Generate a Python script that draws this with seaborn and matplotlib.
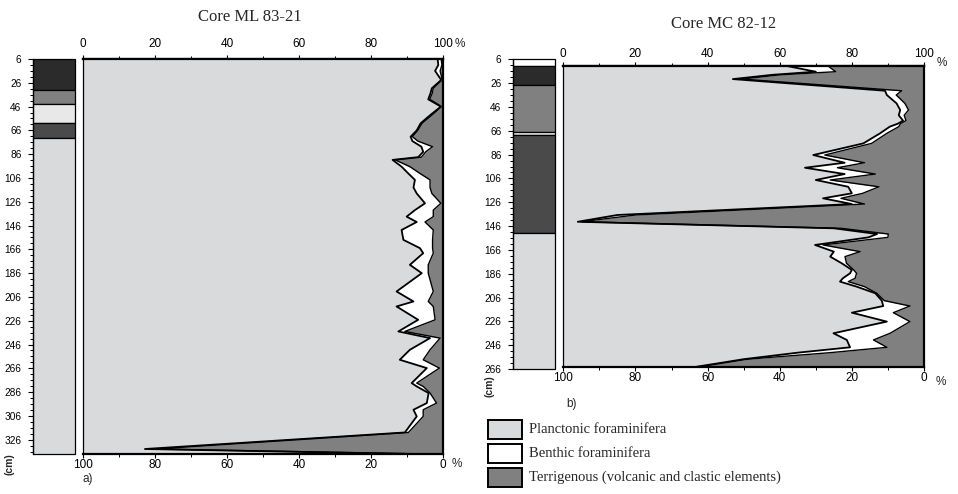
import numpy as np
import matplotlib
matplotlib.use('Agg')
import matplotlib.pyplot as plt
import seaborn as sns
from matplotlib.patches import Rectangle
from matplotlib.ticker import FixedLocator, MultipleLocator

# ---- Core ML 83-21 (panel a) ----
ml_depth = [6, 11, 16, 23.6, 30.6, 35, 39.9, 46, 53, 60, 66, 71.3, 75, 79.7, 84,
            88.5, 90.8, 96.5, 102, 107.6, 114, 119, 127.3, 133, 138.5, 143, 149.7,
            158, 165, 169.2, 179, 186, 201.4, 209.8, 214, 225.2, 235, 240.6, 250.4,
            258.8, 265.8, 278.4, 281.2, 286.8, 295.2, 300.8, 306.4, 319.9, 333.8, 338]
ml_plank = [98.5, 98.7, 97.8, 99.5, 96.9, 96.5, 95.9, 99.4, 96.5, 93.8, 92.7, 91, 91.5,
            94, 94.5, 93.1, 86, 88.5, 90.3, 92.2, 91.8, 92.7, 95, 92.2, 89.9, 92.7,
            88.5, 89, 93.6, 94.5, 90.8, 94.1, 87.1, 91.8, 87.1, 93.1, 87.6, 96.4, 90.8,
            88, 95.5, 91.3, 92.7, 96, 95.5, 91.8, 92.7, 89.4, 17.2, 91.8]
# planktonic + benthic (cumulative)
ml_plank_benth = [99.5, 99.7, 99.2, 99.8, 97.3, 97, 96.3, 99.6, 97, 94.2, 93, 91.5, 93,
                  97.1, 95.2, 94, 86.7, 90.8, 93.5, 96.4, 96.4, 96.9, 99.4, 97.3, 97.3,
                  95, 97.3, 97.1, 97.1, 97.3, 95.9, 95.9, 97.3, 95.9, 97.3, 97.8, 89.4,
                  99.2, 96.4, 94.5, 99, 92.7, 94.5, 96.4, 98.2, 94.5, 94.5, 90.4, 20, 95.9]
ml_litho_top = [6, 32, 44, 60, 72]
ml_litho_bottom = [32, 44, 60, 72, 338]
ml_litho = ['black', 'grey', 'pale', 'dark', 'light']
ml_depth_ticks = list(range(6, 327, 20))

# ---- Core MC 82-12 (panel b) ----
mc_depth = [11.6, 16.4, 19, 22.6, 32.4, 36, 43, 48.6, 53, 57.5, 60, 62.6, 68.2, 76.6,
            86.4, 92.9, 97.1, 102.4, 107.4, 113.1, 118.6, 122.8, 127.6, 136.8, 142.5,
            148, 152.8, 155.6, 162, 167.6, 171.8, 177.4, 183, 185.8, 190, 192.8, 197,
            202.6, 208.8, 213.3, 218.9, 226.4, 236.2, 241.8, 248, 252.5, 258, 264.3]
mc_plank = [62, 70, 58, 47, 89.2, 89.7, 92.4, 93.4, 93, 94.2, 92.8, 90.5, 87.8, 83.2,
            69.3, 78, 67, 78, 70, 79, 80, 72, 80, 15, 4, 75, 87, 84.6, 69.8, 75, 74,
            77.2, 80, 79.5, 77.5, 76.7, 81.3, 86.5, 88.3, 88.7, 80, 89.7, 74.9, 78.6,
            79.5, 65, 50, 37]
mc_plank_benth = [73.4, 75.5, 60, 49.4, 93.8, 92.3, 94.7, 95.7, 94.5, 95, 93.5, 93, 89.7,
                  85.5, 72.5, 83.5, 76, 86.5, 74, 87.5, 83, 77, 83.5, 20, 5, 77, 90.1, 90,
                  72, 82.3, 78.1, 78.5, 80.5, 81.3, 80.9, 79, 83.5, 86.9, 89, 96.1, 91.5,
                  96.1, 90.6, 86, 89.7, 74, 51, 38]
mc_litho_top = [6, 11.5, 27.5, 67, 69.5, 152]
mc_litho_bottom = [11.5, 27.5, 67, 69.5, 152, 266]
mc_litho = ['white', 'black', 'grey', 'pale', 'dark', 'light']
mc_depth_ticks = list(range(6, 267, 20))

legend_labels = ['Planctonic foraminifera', 'Benthic foraminifera',
                 'Terrigenous (volcanic and clastic elements)']

litho_colors = {'black': '#2b2b2b', 'grey': '#808080', 'pale': '#e8e8e8',
                'dark': '#4a4a4a', 'light': '#d9dadc', 'white': '#ffffff'}
c_plank, c_benth, c_terr = '#d9dadc', '#ffffff', '#808080'

sns.set_theme(style='white')
plt.rcParams['font.family'] = ['Liberation Sans', 'DejaVu Sans']
plt.rcParams['axes.edgecolor'] = 'black'

W, H = 958, 494
fig = plt.figure(figsize=(W / 100, H / 100), dpi=100)


def add_ax(x0, y0, x1, y1):
    return fig.add_axes([x0 / W, 1 - y1 / H, (x1 - x0) / W, (y1 - y0) / H])


def draw_strip(ax, tops, bottoms, litho, dmin, dmax, majors):
    for t, b, l in zip(tops, bottoms, litho):
        ax.add_patch(Rectangle((0, t), 1, b - t, facecolor=litho_colors[l],
                               edgecolor='black', lw=0.9, clip_on=False))
    ax.set_xlim(0, 1)
    ax.set_ylim(dmax, dmin)
    ax.set_xticks([])
    ax.yaxis.set_major_locator(FixedLocator(majors))
    ax.yaxis.set_minor_locator(FixedLocator(np.arange(dmin, dmax + 0.1, 5)))
    for sp in ['top', 'right', 'bottom']:
        ax.spines[sp].set_visible(False)
    ax.spines['left'].set_linewidth(0.9)
    ax.tick_params(axis='y', which='major', left=True, length=3.5, width=0.8,
                   labelsize=7.3, pad=5, colors='black')
    ax.tick_params(axis='y', which='minor', left=True, length=2.2, width=0.7,
                   colors='black')


def draw_core(ax, depth, plank, pb, top_pad):
    ax.fill_betweenx(depth, 0, plank, color=c_plank, lw=0)
    ax.fill_betweenx(depth, plank, pb, color=c_benth, lw=0)
    ax.fill_betweenx(depth, pb, 100, color=c_terr, lw=0)
    sns.lineplot(x=pb, y=depth, orient='y', sort=False, estimator=None,
                 color='black', lw=1.0, ax=ax)
    sns.lineplot(x=plank, y=depth, orient='y', sort=False, estimator=None,
                 color='black', lw=1.3, ax=ax)
    ax.set_xlim(0, 100)
    ax.set_ylim(depth[-1], depth[0])
    ax.set_yticks([])
    ax.set_xlabel('')
    ax.set_ylabel('')
    ticks = list(range(0, 101, 20))
    ax.set_xticks(ticks)
    ax.set_xticklabels([str(100 - t) for t in ticks])
    ax.xaxis.set_minor_locator(MultipleLocator(10))
    ax.tick_params(axis='x', which='major', bottom=True, length=3, width=0.8,
                   labelsize=8.5, pad=0.8, colors='black')
    ax.tick_params(axis='x', which='minor', bottom=True, length=2, width=0.7,
                   colors='black')
    sec = ax.secondary_xaxis('top')
    sec.set_xticks(ticks)
    sec.set_xticklabels([str(t) for t in ticks])
    sec.xaxis.set_minor_locator(MultipleLocator(10))
    sec.tick_params(axis='x', which='major', top=True, length=3, width=0.8,
                    labelsize=8.5, pad=top_pad, colors='black')
    sec.tick_params(axis='x', which='minor', top=True, length=2, width=0.7,
                    colors='black')
    sec.spines['top'].set_linewidth(1.6)
    ax.spines['top'].set_linewidth(1.6)
    ax.spines['bottom'].set_linewidth(1.6)
    ax.spines['right'].set_linewidth(1.6)
    ax.spines['left'].set_linewidth(0.9)


# panel a
ax_s1 = add_ax(33.3, 59, 75, 454)
draw_strip(ax_s1, ml_litho_top, ml_litho_bottom, ml_litho, 6, 338, ml_depth_ticks)
ax_m1 = add_ax(83, 59, 443, 454)
draw_core(ax_m1, ml_depth, ml_plank, ml_plank_benth, 3.6)

# panel b
ax_s2 = add_ax(513.3, 59.3, 555, 369)
draw_strip(ax_s2, mc_litho_top, mc_litho_bottom, mc_litho, 6, 266, mc_depth_ticks)
ax_m2 = add_ax(563.3, 66, 924, 366.7)
draw_core(ax_m2, mc_depth, mc_plank, mc_plank_benth, 1.6)

# overlay for free text and legend, in pixel coordinates
ov = fig.add_axes([0, 0, 1, 1], zorder=-1)
ov.set_xlim(0, W)
ov.set_ylim(H, 0)
ov.axis('off')

serif = ['Liberation Serif', 'DejaVu Serif']
ov.text(249.5, 17, 'Core ML 83-21', family=serif, fontsize=12, ha='center', va='center')
ov.text(723.5, 24, 'Core MC 82-12', family=serif, fontsize=12, ha='center', va='center')
ov.text(455, 44, '%', fontsize=8.5, ha='left', va='center')
ov.text(452, 464, '%', fontsize=8.5, ha='left', va='center')
ov.text(937, 63, '%', fontsize=8.5, ha='left', va='center')
ov.text(936, 382, '%', fontsize=8.5, ha='left', va='center')
ov.text(83, 479, 'a)', fontsize=8.5, ha='left', va='center')
ov.text(566, 404, 'b)', fontsize=8.5, ha='left', va='center')
ov.text(10, 464, '(cm)', fontsize=7.5, fontweight='bold', rotation=90, ha='center', va='center')
ov.text(490, 386, '(cm)', fontsize=7.5, fontweight='bold', rotation=90, ha='center', va='center')

for i, (lab, col) in enumerate(zip(legend_labels, [c_plank, c_benth, c_terr])):
    y0 = 420 + i * 24
    ov.add_patch(Rectangle((488, y0), 34, 19, facecolor=col, edgecolor='black', lw=1.4))
    ov.text(529, y0 + 9.5, lab, family=serif, fontsize=10.5, ha='left', va='center')

fig.savefig('out.png', dpi=100)
